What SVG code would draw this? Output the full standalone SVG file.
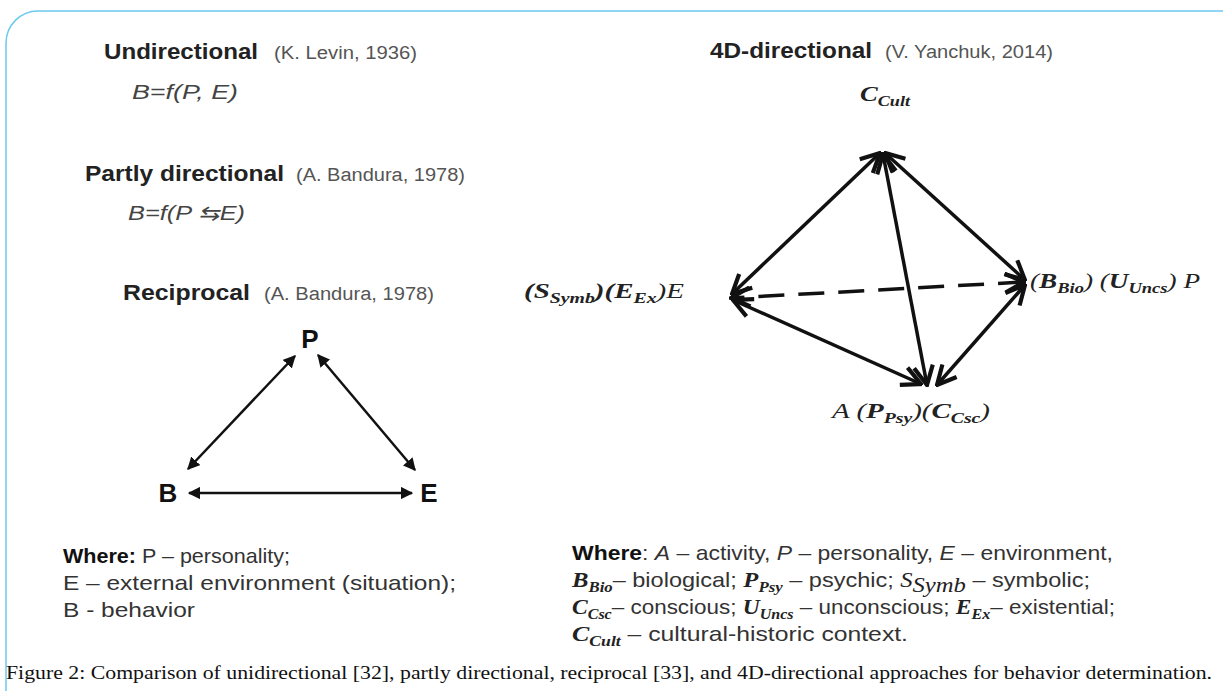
<svg xmlns="http://www.w3.org/2000/svg" width="1223" height="691" viewBox="0 0 1223 691">
<defs>
<style>
.h{font-family:"Liberation Sans",Arial,sans-serif;font-weight:bold;font-size:22px;fill:#222}
.ref{font-family:"Liberation Sans",Arial,sans-serif;font-size:18px;fill:#555}
.f{font-family:"Liberation Sans",Arial,sans-serif;font-style:italic;font-size:20px;fill:#444}
.m{font-family:"Liberation Serif","Times New Roman",serif;font-style:italic;font-weight:bold;font-size:22px;fill:#222}
.s{font-size:15px}
.mi{font-family:"Liberation Serif","Times New Roman",serif;font-style:italic;font-size:22px;fill:#222}
.lg{font-family:"Liberation Sans",Arial,sans-serif;font-size:21px;fill:#333}
.node{font-family:"Liberation Sans",Arial,sans-serif;font-weight:bold;font-size:26px;fill:#111}
.cap{font-family:"Liberation Serif","Times New Roman",serif;font-size:19px;fill:#111}
.t{stroke:#111;stroke-width:2.5;fill:none}
.p{stroke:#111;stroke-width:3.5;fill:none}
</style>
<marker id="ah" viewBox="0 0 10 10" refX="9" refY="5" markerWidth="5" markerHeight="5" orient="auto-start-reverse" markerUnits="strokeWidth">
<path d="M0,0 L10,5 L0,10 z" fill="#111"/>
</marker>
<marker id="av" viewBox="0 0 12 12" refX="11" refY="6" markerWidth="6.5" markerHeight="6.5" orient="auto-start-reverse" markerUnits="strokeWidth">
<path d="M1,1 L11,6 L1,11" fill="none" stroke="#111" stroke-width="2.2" stroke-linejoin="miter"/>
</marker>
</defs>
<rect x="6" y="11" width="1250" height="710" rx="32" ry="32" fill="#fff" stroke="#6cc9ef" stroke-width="1.5"/>

<g id="undirectional">
<text class="h" x="104" y="59" textLength="154" lengthAdjust="spacingAndGlyphs">Undirectional</text>
<text class="ref" x="274" y="59" textLength="143" lengthAdjust="spacingAndGlyphs">(K. Levin, 1936)</text>
<text class="f" x="132" y="99" textLength="106" lengthAdjust="spacingAndGlyphs">B=f(P, E)</text>
</g>
<g id="partly">
<text class="h" x="85" y="181" textLength="199" lengthAdjust="spacingAndGlyphs">Partly directional</text>
<text class="ref" x="296" y="181" textLength="169" lengthAdjust="spacingAndGlyphs">(A. Bandura, 1978)</text>
<text class="f" x="128" y="220" textLength="117" lengthAdjust="spacingAndGlyphs">B=f(P ⇆E)</text>
</g>
<g id="reciprocal">
<text class="h" x="123" y="300" textLength="127" lengthAdjust="spacingAndGlyphs">Reciprocal</text>
<text class="ref" x="264" y="300" textLength="170" lengthAdjust="spacingAndGlyphs">(A. Bandura, 1978)</text>
</g>
<g id="node-P"><text class="node" x="310" y="348" text-anchor="middle">P</text></g>
<g id="node-B"><text class="node" x="168" y="502" text-anchor="middle">B</text></g>
<g id="node-E"><text class="node" x="429" y="502" text-anchor="middle">E</text></g>

<g id="fourd-title">
<text class="h" x="710" y="58" textLength="162" lengthAdjust="spacingAndGlyphs">4D-directional</text>
<text class="ref" x="885" y="58" textLength="168" lengthAdjust="spacingAndGlyphs">(V. Yanchuk, 2014)</text>
</g>
<g id="node-C"><text class="m" x="860" y="101" textLength="50" lengthAdjust="spacingAndGlyphs">C<tspan class="s" dy="5">Cult</tspan></text></g>
<g id="node-SE"><text class="mi" x="524" y="298" textLength="160" lengthAdjust="spacingAndGlyphs"><tspan class="m">(S</tspan><tspan class="m s" dy="5">Symb</tspan><tspan class="m" dy="-5">)(E</tspan><tspan class="m s" dy="5">Ex</tspan><tspan dy="-5">)E</tspan></text></g>
<g id="node-BUP"><text class="mi" x="1030" y="288" textLength="170" lengthAdjust="spacingAndGlyphs"><tspan>(</tspan><tspan class="m">B</tspan><tspan class="m s" dy="5">Bio</tspan><tspan dy="-5">) (</tspan><tspan class="m">U</tspan><tspan class="m s" dy="5">Uncs</tspan><tspan dy="-5">) P</tspan></text></g>
<g id="node-A"><text class="mi" x="832" y="418" textLength="158" lengthAdjust="spacingAndGlyphs">A (<tspan class="m">P</tspan><tspan class="m s" dy="5">Psy</tspan><tspan dy="-5">)(</tspan><tspan class="m">C</tspan><tspan class="m s" dy="5">Csc</tspan><tspan dy="-5">)</tspan></text></g>

<g id="connectors">
<line class="t" x1="295" y1="356" x2="188" y2="469" marker-start="url(#ah)" marker-end="url(#ah)"/>
<line class="t" x1="318" y1="355" x2="415" y2="470" marker-start="url(#ah)" marker-end="url(#ah)"/>
<line class="t" x1="189" y1="493" x2="412" y2="493" marker-start="url(#ah)" marker-end="url(#ah)"/>

<line class="p" x1="880" y1="153" x2="732" y2="294" marker-start="url(#av)" marker-end="url(#av)"/>
<line class="p" x1="885" y1="153" x2="1025" y2="280" marker-start="url(#av)" marker-end="url(#av)"/>
<line class="p" x1="883" y1="154" x2="927" y2="385" marker-start="url(#av)" marker-end="url(#av)"/>
<line class="p" x1="733" y1="300" x2="921" y2="384" marker-start="url(#av)" marker-end="url(#av)"/>
<line class="p" x1="1025" y1="285" x2="937" y2="385" marker-start="url(#av)" marker-end="url(#av)"/>
<line class="p" x1="1024" y1="282" x2="731" y2="298" stroke-dasharray="26,14" marker-start="url(#av)" marker-end="url(#av)"/>
</g>

<g id="legend-left">
<text class="lg" x="63" y="563" textLength="227" lengthAdjust="spacingAndGlyphs"><tspan font-weight="bold" fill="#111">Where:</tspan> P – personality;</text>
<text class="lg" x="63" y="590" textLength="393" lengthAdjust="spacingAndGlyphs">E – external environment (situation);</text>
<text class="lg" x="63" y="617" textLength="132" lengthAdjust="spacingAndGlyphs">B - behavior</text>
</g>
<g id="legend-right">
<text class="lg" x="572" y="560" textLength="541" lengthAdjust="spacingAndGlyphs"><tspan font-weight="bold" fill="#111">Where</tspan>: <tspan font-style="italic">A</tspan> – activity, <tspan font-style="italic">P</tspan> – personality, <tspan font-style="italic">E</tspan> – environment,</text>
<text class="lg" x="572" y="587" textLength="518" lengthAdjust="spacingAndGlyphs"><tspan class="m">B</tspan><tspan class="m s" dy="5">Bio</tspan><tspan dy="-5">– biological; </tspan><tspan class="m">P</tspan><tspan class="m s" dy="5">Psy</tspan><tspan dy="-5"> – psychic; </tspan><tspan class="mi">S</tspan><tspan class="mi s" dy="5">Symb</tspan><tspan dy="-5"> – symbolic;</tspan></text>
<text class="lg" x="572" y="614" textLength="543" lengthAdjust="spacingAndGlyphs"><tspan class="m">C</tspan><tspan class="m s" dy="5">Csc</tspan><tspan dy="-5">– conscious; </tspan><tspan class="m">U</tspan><tspan class="m s" dy="5">Uncs</tspan><tspan dy="-5"> – unconscious; </tspan><tspan class="m">E</tspan><tspan class="m s" dy="5">Ex</tspan><tspan dy="-5">– existential;</tspan></text>
<text class="lg" x="572" y="641" textLength="336" lengthAdjust="spacingAndGlyphs"><tspan class="m">C</tspan><tspan class="m s" dy="5">Cult</tspan><tspan dy="-5"> – cultural-historic context.</tspan></text>
</g>
<text class="cap" x="6" y="679" textLength="1206" lengthAdjust="spacingAndGlyphs">Figure 2: Comparison of unidirectional [32], partly directional, reciprocal [33], and 4D-directional approaches for behavior determination.</text>
</svg>
